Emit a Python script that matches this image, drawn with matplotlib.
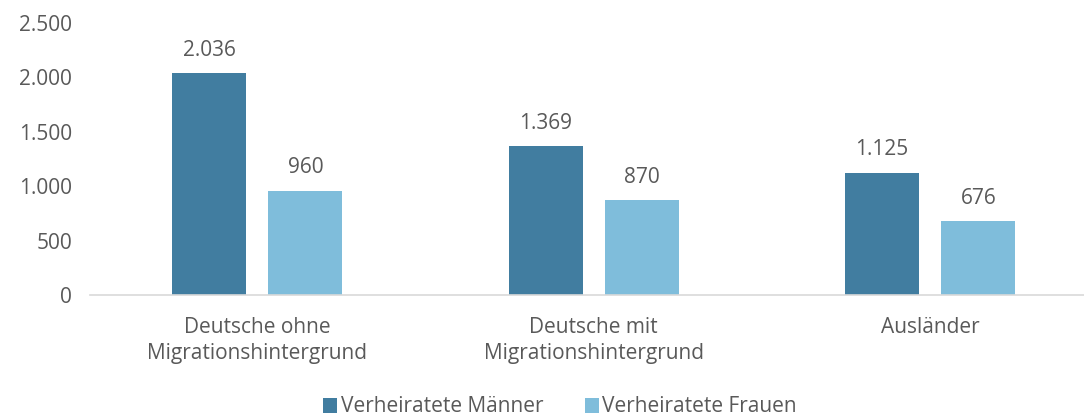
import numpy as np
import matplotlib.pyplot as plt

plt.rcParams['font.family'] = ['Open Sans', 'DejaVu Sans']

categories = ['Deutsche ohne\nMigrationshintergrund', 'Deutsche mit\nMigrationshintergrund', 'Ausländer']
maenner = [2036, 1369, 1125]
frauen = [960, 870, 676]
series_names = ['Verheiratete Männer', 'Verheiratete Frauen']
yticks = [0, 500, 1000, 1500, 2000, 2500]

DARK = '#417DA0'
LIGHT = '#7FBDDB'
TEXT = '#595959'
FS = 15

fig = plt.figure(figsize=(10.84, 4.17), dpi=100)
ax = fig.add_axes([90 / 1084, 1 - 295 / 417, 1 - 90 / 1084, (295 - 23) / 417])

x = np.arange(len(categories))
w = 0.22
off = 0.143
b1 = ax.bar(x - off, maenner, w, color=DARK, label=series_names[0])
b2 = ax.bar(x + off, frauen, w, color=LIGHT, label=series_names[1])

def fmt(v):
    return f'{v:,}'.replace(',', '.')

for bars in (b1, b2):
    for r in bars:
        ax.annotate(fmt(int(r.get_height())), (r.get_x() + r.get_width() / 2, r.get_height()),
                    xytext=(0, 9), textcoords='offset points', ha='center', va='bottom',
                    fontsize=FS, color=TEXT)

ax.set_ylim(0, 2500)
ax.set_xlim(-0.497, 2.457)
ax.set_yticks(yticks)
ax.set_yticklabels([fmt(v) for v in yticks])
ax.set_xticks(x)
ax.set_xticklabels(categories, linespacing=1.3)
ax.tick_params(axis='both', length=0, labelsize=FS, labelcolor=TEXT)
ax.tick_params(axis='y', pad=13)
ax.tick_params(axis='x', pad=16)

for s in ['top', 'right', 'left']:
    ax.spines[s].set_visible(False)
ax.spines['bottom'].set_color('#D9D9D9')
ax.spines['bottom'].set_linewidth(1.2)

fig.legend(handles=[b1, b2], labels=series_names, loc='center', bbox_to_anchor=(560 / 1084, 1 - 407 / 417),
           ncol=2, frameon=False, fontsize=FS, labelcolor=TEXT, handlelength=0.7, handleheight=0.7,
           handletextpad=0.15, columnspacing=2.0)

fig.savefig('out.png', dpi=100)
